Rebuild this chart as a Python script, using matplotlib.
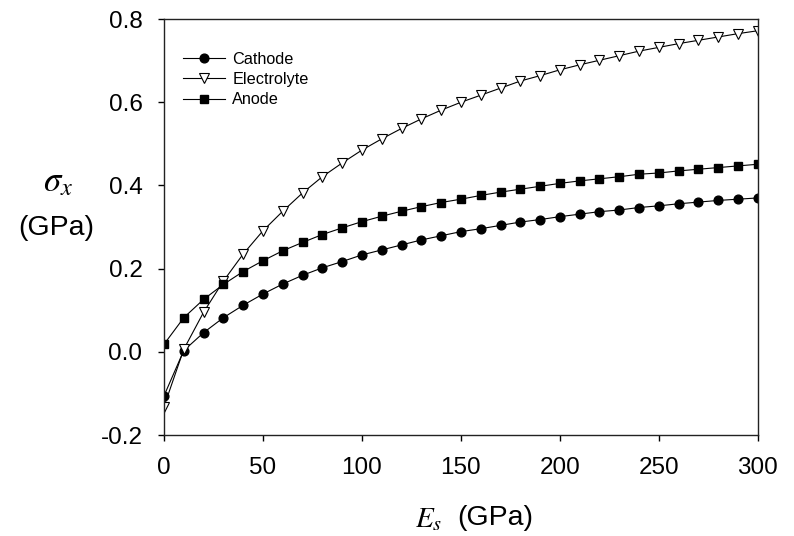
import matplotlib
matplotlib.use("Agg")
import matplotlib.pyplot as plt

# ── Data ─────────────────────────────────────────────────────────────────────
es_gpa = list(range(0, 310, 10))

cathode = [-0.106, 0.003, 0.046, 0.082, 0.112, 0.139, 0.163, 0.184, 0.202, 0.217,
           0.233, 0.245, 0.257, 0.269, 0.279, 0.289, 0.296, 0.304, 0.312, 0.318,
           0.325, 0.331, 0.337, 0.341, 0.347, 0.351, 0.356, 0.360, 0.364, 0.367,
           0.370]
electrolyte = [-0.132, 0.006, 0.095, 0.170, 0.235, 0.291, 0.338, 0.382, 0.421, 0.454,
               0.485, 0.512, 0.537, 0.560, 0.581, 0.600, 0.617, 0.634, 0.651, 0.664,
               0.678, 0.690, 0.701, 0.712, 0.723, 0.732, 0.741, 0.749, 0.757, 0.765,
               0.772]
anode = [0.018, 0.082, 0.126, 0.162, 0.193, 0.219, 0.243, 0.263, 0.282, 0.298,
         0.313, 0.326, 0.338, 0.349, 0.359, 0.367, 0.376, 0.384, 0.391, 0.398,
         0.405, 0.411, 0.416, 0.421, 0.427, 0.430, 0.435, 0.439, 0.443, 0.447,
         0.451]

x_ticks = [0, 50, 100, 150, 200, 250, 300]
y_ticks = [-0.2, 0.0, 0.2, 0.4, 0.6, 0.8]

# ── Style ────────────────────────────────────────────────────────────────────
plt.rcParams["font.family"] = ["Liberation Sans", "DejaVu Sans"]
plt.rcParams["mathtext.fontset"] = "stix"

fig = plt.figure(figsize=(7.94, 5.36), dpi=100)
ax = fig.add_axes([0.2065, 0.1884, 0.748, 0.776])

LW = 0.8
ax.plot(es_gpa, cathode, color="black", lw=LW, marker="o", ms=6.3,
        mfc="black", mec="black", label="Cathode")
ax.plot(es_gpa, electrolyte, color="black", lw=LW, marker="v", ms=7.0,
        mfc="white", mec="black", mew=0.8, label="Electrolyte")
ax.plot(es_gpa, anode, color="black", lw=LW, marker="s", ms=5.8,
        mfc="black", mec="black", label="Anode")

ax.set_xlim(0, 300)
ax.set_ylim(-0.2, 0.8)
ax.set_xticks(x_ticks)
ax.set_yticks(y_ticks)
ax.set_yticklabels([f"{v:.1f}" for v in y_ticks])
ax.tick_params(direction="out", length=4.5, width=1, labelsize=17.5, pad=11,
               colors="black")
for sp in ax.spines.values():
    sp.set_linewidth(1.0)
    sp.set_color("#222222")

leg = ax.legend(loc="upper left", bbox_to_anchor=(0.015, 0.945), frameon=False,
                fontsize=11.7, handlelength=2.6, handletextpad=0.45,
                labelspacing=0.33, borderaxespad=0.2)

# axis titles: serif italic symbols with sans units
fig.text(58 / 794, 1 - 182 / 536, r"$\sigma_x$", fontsize=25,
         ha="center", va="center")
fig.text(56 / 794, 1 - 228 / 536, "(GPa)", fontsize=20.5,
         ha="center", va="center")
fig.text(415 / 794, 1 - 519 / 536, r"$E_s$", fontsize=21,
         ha="left", va="center")
fig.text(457 / 794, 1 - 518 / 536, "(GPa)", fontsize=20.5,
         ha="left", va="center")

fig.savefig("out.png", dpi=100)
